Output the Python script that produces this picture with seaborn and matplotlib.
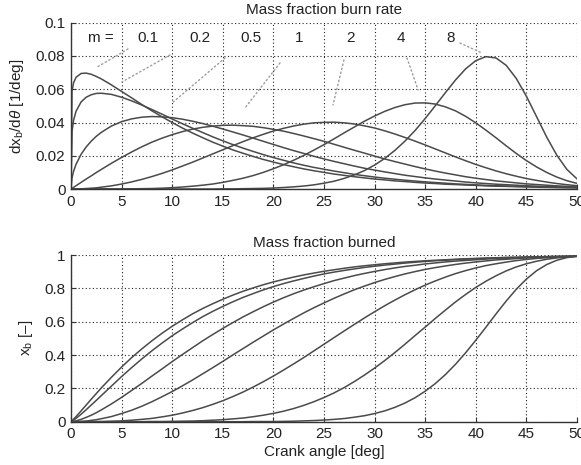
import numpy as np
import pandas as pd
import matplotlib
matplotlib.use("Agg")
import matplotlib.pyplot as plt
import seaborn as sns
from matplotlib.ticker import FuncFormatter

# ---------------- data ----------------
theta = [0, 0.1, 0.25, 0.5, 1, 1.5, 2, 2.5] + list(range(3, 51))  # crank angle [deg]
m_values = ["0.1", "0.2", "0.5", "1", "2", "4", "8"]

# mass fraction burn rate, in units of 1e-4 1/deg
rate_m01 = [0,588,638,672,695,697,690,677,662,626,587,548,508,470,434,400,367,337,309,282,258,235,215,196,178,162,147,134,121,110,100,90,82,74,67,60,55,49,45,40,36,33,29,27,24,22,19,17,16,14,13,11,10,9,8,7]
rate_m02 = [0,345,412,468,524,552,567,575,576,569,552,530,505,478,450,421,393,366,340,314,290,267,246,226,207,189,173,157,143,130,119,108,98,88,80,72,65,59,53,48,43,39,35,31,28,25,22,20,18,16,14,13,11,10,9,8]
rate_m05 = [0,67,106,149,209,253,288,317,341,379,405,422,432,436,434,429,420,408,394,378,361,343,325,306,287,268,249,231,214,197,181,166,152,138,125,114,103,93,83,75,67,60,54,48,42,37,33,29,26,23,20,17,15,13,12,10]
rate_m1 = [0,4,10,20,40,60,79,99,118,155,190,223,254,282,306,327,345,360,371,378,383,384,381,377,369,359,348,334,319,303,287,269,251,233,216,198,181,165,150,135,121,108,96,85,74,65,57,49,43,37,31,27,23,19,16,13]
rate_m2 = [0,0,0,0,1,3,5,7,11,19,30,43,58,75,94,115,138,161,186,211,236,261,285,308,329,349,365,379,390,398,401,402,398,391,380,367,350,331,310,288,265,241,217,193,170,148,128,109,92,77,63,52,42,33,26,20]
rate_m4 = [0,0,0,0,0,0,0,0,0,0,0,1,2,3,5,8,12,17,23,30,40,52,65,81,100,122,146,173,202,234,267,302,338,373,408,439,467,490,507,517,518,511,494,470,437,398,354,308,260,214,171,133,100,72,50,34]
rate_m8 = [0,0,0,0,0,0,0,0,0,0,0,0,0,0,0,0,0,0,0,0,1,1,2,3,4,6,9,13,18,25,35,47,64,85,111,144,184,232,288,352,424,501,580,656,723,772,796,788,744,665,558,436,313,204,118,61]

# mass fraction burned, in units of 1e-3
xb_m01 = [0,5,15,31,65,100,135,169,203,267,328,385,437,486,531,573,611,647,679,708,735,760,783,803,822,839,854,868,881,892,903,912,921,929,936,942,948,953,958,962,966,969,972,975,978,980,982,984,986,987,988,990,991,992,992,993]
xb_m02 = [0,3,9,20,45,72,100,128,157,214,271,325,377,426,472,516,556,594,630,662,692,720,746,769,791,811,829,845,860,874,887,898,908,917,926,933,940,946,952,957,962,966,969,973,976,978,981,983,985,986,988,989,990,991,992,993]
xb_m05 = [0,0,2,5,14,26,39,54,71,107,146,188,230,274,317,361,403,444,485,523,560,595,629,660,690,718,744,768,790,810,829,847,862,877,890,902,913,923,932,939,947,953,959,964,968,972,976,979,981,984,986,988,990,991,992,993]
xb_m1 = [0,0,0,0,2,4,8,12,18,31,49,69,93,120,150,181,215,250,287,324,362,401,439,477,514,551,586,620,653,684,713,741,767,792,814,835,854,871,887,901,914,925,935,944,952,959,965,971,975,979,983,985,988,990,992,993]
xb_m2 = [0,0,0,0,0,0,0,1,1,3,5,9,14,20,29,39,52,67,84,104,126,151,178,208,240,274,310,347,385,425,465,505,545,584,623,660,696,730,762,792,820,845,868,889,907,923,937,948,958,967,974,980,984,988,991,993]
xb_m4 = [0,0,0,0,0,0,0,0,0,0,0,0,0,1,1,2,3,4,6,9,12,17,22,30,39,50,63,79,98,120,145,173,205,241,280,322,367,415,465,517,568,620,670,719,764,806,843,876,905,929,948,963,975,983,989,993]
xb_m8 = [0,0,0,0,0,0,0,0,0,0,0,0,0,0,0,0,0,0,0,0,0,0,0,1,1,1,2,3,5,7,10,14,19,27,36,49,65,86,112,144,183,229,283,345,414,489,567,647,724,795,856,906,943,969,985,993]

x_ticks = [0, 5, 10, 15, 20, 25, 30, 35, 40, 45, 50]
rate_ticks = [0, 0.02, 0.04, 0.06, 0.08, 0.1]
xb_ticks = [0, 0.2, 0.4, 0.6, 0.8, 1]

rates = [rate_m01, rate_m02, rate_m05, rate_m1, rate_m2, rate_m4, rate_m8]
xbs = [xb_m01, xb_m02, xb_m05, xb_m1, xb_m2, xb_m4, xb_m8]

frames = []
for m, r, x in zip(m_values, rates, xbs):
    frames.append(pd.DataFrame({
        "theta": theta,
        "rate": np.array(r) * 1e-4,
        "xb": np.array(x) * 1e-3,
        "m": m,
    }))
df = pd.concat(frames, ignore_index=True)

# ---------------- style ----------------
sns.set_theme(style="white")
plt.rcParams["font.family"] = ["Liberation Sans", "DejaVu Sans"]
plt.rcParams["mathtext.fontset"] = "custom"
plt.rcParams["mathtext.rm"] = "Liberation Sans"
plt.rcParams["mathtext.it"] = "Liberation Sans:italic"
plt.rcParams["mathtext.bf"] = "Liberation Sans:bold"

TXT = "#222222"
LINE = "#4a4a4a"
FS = 11

fig = plt.figure(figsize=(5.81, 4.65), dpi=100)
ax1 = fig.add_axes([0.1222, 0.5935, 0.8709, 0.3576])
ax2 = fig.add_axes([0.1222, 0.0931, 0.8709, 0.3583])

pal = [LINE] * len(m_values)
sns.lineplot(data=df, x="theta", y="rate", hue="m", palette=pal, estimator=None,
             legend=False, ax=ax1, linewidth=1.1)
sns.lineplot(data=df, x="theta", y="xb", hue="m", palette=pal, estimator=None,
             legend=False, ax=ax2, linewidth=1.1)

fmt = FuncFormatter(lambda v, p: "%g" % round(v, 6))
for ax, yt in [(ax1, rate_ticks), (ax2, xb_ticks)]:
    ax.set_xlim(0, 50)
    ax.set_ylim(yt[0], yt[-1])
    ax.set_xticks(x_ticks)
    ax.set_yticks(yt)
    ax.yaxis.set_major_formatter(fmt)
    ax.xaxis.set_major_formatter(fmt)
    ax.grid(True, linestyle=(0, (1, 2.2)), color="#222222", linewidth=0.8)
    ax.set_axisbelow(True)
    for s in ["top", "right"]:
        ax.spines[s].set_visible(False)
    for s in ["left", "bottom"]:
        ax.spines[s].set_color("#333333")
        ax.spines[s].set_linewidth(1.0)
    ax.tick_params(axis="both", direction="in", length=3.5, width=0.8,
                   colors="#333333", labelcolor=TXT, labelsize=FS,
                   left=True, bottom=True, top=False, right=False, pad=4)
    ax.set_xlabel("")

ax1.set_title("Mass fraction burn rate", fontsize=FS, color=TXT, pad=6)
ax2.set_title("Mass fraction burned", fontsize=FS, color=TXT, pad=6)
ax1.set_ylabel(r"dx$_\mathrm{b}$/d$\mathit{\theta}$ [1/deg]", fontsize=FS, color=TXT, labelpad=7)
ax2.set_ylabel(r"x$_\mathrm{b}$ [–]", fontsize=FS, color=TXT, labelpad=7)
ax2.set_xlabel("Crank angle [deg]", fontsize=FS, color=TXT, labelpad=3)

# labels of the m values with dotted leader lines
ax1.text(3.0, 0.0908, "m =", ha="center", va="center", fontsize=FS, color=TXT)
label_x = [7.6, 12.75, 17.8, 22.5, 27.6, 32.6, 37.5]
leader_start = [(5.63, 0.0842), (9.78, 0.0806), (15.22, 0.0788), (20.65, 0.0758),
                (26.97, 0.0776), (33.2, 0.0788), (38.44, 0.0878)]
leader_end = [(2.57, 0.0733), (5.04, 0.0644), (9.98, 0.0517), (17.2, 0.0488),
              (25.89, 0.0506), (34.3, 0.0596), (40.6, 0.0818)]
for m, lx, st, en in zip(m_values, label_x, leader_start, leader_end):
    ax1.text(lx, 0.0908, m, ha="center", va="center", fontsize=FS, color=TXT)
    ax1.annotate("", xy=en, xytext=st,
                 arrowprops=dict(arrowstyle="-", linestyle=(0, (1, 2)),
                                 color="#9a9a9a", linewidth=1.0,
                                 shrinkA=0, shrinkB=0))

fig.savefig("out.png", dpi=100)
